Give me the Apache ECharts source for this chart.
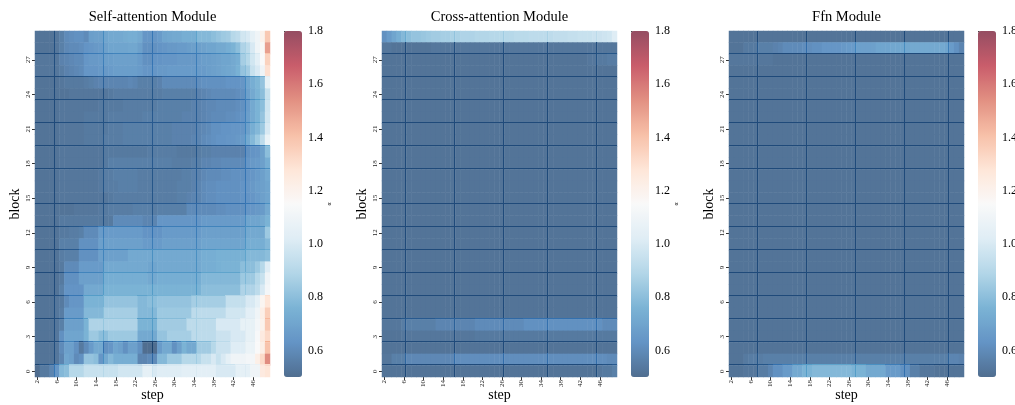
<!DOCTYPE html>
<html><head><meta charset="utf-8">
<style>html,body{margin:0;padding:0;background:#fff}#c{width:1015px;height:405px}</style>
<script src="https://cdn.jsdelivr.net/npm/echarts@6/dist/echarts.min.js"></script>
</head><body><div id="c"></div>
<script>
const steps = [];
for (let s = 2; s <= 49; s++) steps.push(String(s));
const blocks = [];
for (let b = 0; b <= 29; b++) blocks.push(String(b));
const titles = ['Self-attention Module', 'Cross-attention Module', 'Ffn Module'];
const colorbarTicks = [0.6, 0.8, 1.0, 1.2, 1.4, 1.6, 1.8];
const rdbuStops = ['#053061','#2166ac','#4393c3','#92c5de','#d1e5f0','#f7f7f7','#fddbc7','#f4a582','#d6604d','#b2182b','#67001f'];
// Rows run top (block 29) to bottom (block 0); 48 steps each.
const selfAttention = [
[.52,.52,.52,.52,.53,.56,.60,.61,.62,.62, .60,.67,.68,.68,.70,.72,.72,.72,.73,.74, .74,.72,.64,.64,.64,.66,.70,.71,.72,.72, .74,.74,.74,.78,.78,.78,.80,.82,.84,.85, .90,.92,.98,1.00,1.05,1.10,1.20,1.38],
[.52,.52,.52,.52,.53,.56,.59,.60,.60,.61, .63,.64,.65,.66,.68,.70,.70,.70,.70,.71, .71,.68,.62,.62,.62,.63,.64,.65,.65,.66, .66,.67,.68,.68,.69,.70,.70,.72,.72,.74, .76,.80,.88,.92,1.00,1.10,1.16,1.50],
[.53,.53,.53,.53,.53,.57,.58,.59,.60,.60, .64,.65,.65,.66,.67,.67,.68,.68,.68,.68, .68,.66,.62,.62,.63,.63,.64,.64,.64,.65, .65,.65,.65,.66,.67,.67,.68,.69,.70,.70, .72,.74,.86,.90,.98,1.04,1.15,1.35],
[.53,.53,.53,.53,.53,.55,.57,.58,.59,.60, .64,.64,.64,.65,.65,.66,.67,.67,.67,.67, .67,.66,.64,.64,.64,.65,.65,.66,.66,.66, .66,.66,.66,.66,.66,.67,.68,.69,.70,.71, .72,.75,.82,.85,.95,1.00,1.10,1.30],
[.52,.52,.52,.52,.52,.53,.54,.54,.54,.54, .55,.56,.57,.58,.58,.58,.58,.58,.58,.59, .58,.56,.56,.56,.56,.57,.60,.60,.60,.60, .60,.60,.60,.61,.62,.62,.62,.62,.62,.63, .63,.63,.64,.70,.74,.77,.82,1.06],
[.52,.52,.52,.52,.52,.52,.52,.53,.53,.53, .53,.53,.53,.53,.53,.54,.55,.55,.55,.55, .55,.55,.55,.55,.55,.55,.56,.56,.56,.56, .56,.56,.56,.57,.58,.59,.60,.60,.60,.60, .60,.61,.62,.68,.72,.76,.80,.95],
[.52,.52,.52,.52,.52,.53,.53,.53,.53,.53, .53,.53,.53,.54,.54,.54,.54,.54,.55,.55, .55,.55,.55,.55,.55,.56,.56,.56,.56,.56, .56,.56,.57,.57,.58,.59,.59,.60,.60,.60, .60,.61,.62,.66,.72,.76,.80,.97],
[.52,.52,.52,.52,.52,.53,.53,.53,.53,.53, .54,.54,.54,.54,.54,.55,.55,.55,.55,.55, .55,.55,.56,.56,.56,.56,.56,.56,.56,.56, .57,.57,.57,.57,.58,.59,.60,.60,.60,.61, .61,.62,.63,.67,.72,.76,.82,.98],
[.52,.52,.52,.52,.52,.53,.53,.53,.53,.53, .54,.54,.54,.54,.54,.55,.55,.55,.56,.56, .56,.56,.56,.56,.56,.56,.56,.56,.57,.57, .57,.57,.57,.58,.59,.60,.62,.62,.63,.63, .64,.64,.64,.68,.74,.78,.84,1.00],
[.52,.52,.52,.52,.52,.53,.53,.53,.53,.53, .54,.54,.54,.54,.55,.55,.55,.55,.56,.56, .56,.56,.56,.56,.56,.56,.56,.56,.57,.57, .57,.57,.58,.58,.60,.61,.62,.63,.63,.64, .64,.65,.66,.72,.78,.84,.92,1.08],
[.52,.52,.52,.52,.52,.53,.53,.53,.53,.53, .53,.53,.53,.53,.54,.54,.54,.54,.54,.54, .54,.54,.54,.55,.55,.55,.55,.55,.55,.54, .54,.54,.54,.55,.56,.56,.57,.57,.57,.57, .57,.57,.57,.62,.63,.64,.68,.80],
[.52,.52,.52,.52,.52,.53,.53,.53,.53,.53, .53,.53,.53,.53,.54,.56,.56,.56,.56,.56, .56,.56,.56,.56,.56,.56,.56,.56,.55,.55, .55,.55,.56,.56,.58,.58,.59,.59,.60,.60, .60,.60,.60,.64,.65,.66,.68,.74],
[.52,.52,.52,.52,.52,.53,.53,.53,.53,.53, .53,.53,.53,.54,.55,.55,.56,.56,.56,.56, .56,.55,.55,.55,.55,.55,.55,.55,.55,.55, .56,.56,.57,.57,.59,.60,.60,.60,.61,.61, .62,.62,.62,.63,.64,.66,.68,.72],
[.52,.52,.52,.52,.52,.53,.53,.53,.53,.53, .53,.53,.53,.54,.55,.55,.55,.56,.56,.56, .56,.55,.55,.55,.55,.55,.55,.55,.55,.56, .56,.56,.57,.58,.60,.61,.61,.62,.62,.62, .62,.62,.63,.64,.65,.67,.68,.70],
[.52,.52,.52,.52,.52,.53,.53,.53,.53,.53, .53,.53,.53,.53,.53,.54,.55,.55,.55,.55, .55,.55,.55,.55,.55,.55,.55,.55,.55,.56, .56,.57,.58,.58,.60,.61,.61,.62,.62,.62, .62,.62,.63,.63,.64,.66,.68,.70],
[.52,.52,.52,.52,.52,.52,.52,.52,.53,.53, .53,.53,.53,.54,.54,.55,.55,.55,.55,.55, .56,.56,.56,.56,.55,.56,.56,.56,.56,.56, .56,.60,.60,.60,.60,.60,.60,.61,.61,.62, .62,.62,.62,.64,.64,.65,.66,.72],
[.52,.52,.52,.52,.52,.54,.54,.54,.54,.54, .54,.54,.54,.54,.54,.54,.60,.60,.60,.60, .60,.60,.58,.58,.58,.64,.64,.64,.64,.64, .64,.64,.64,.64,.66,.66,.66,.66,.66,.66, .66,.66,.66,.70,.70,.70,.72,.76],
[.52,.52,.52,.52,.52,.54,.54,.55,.55,.56, .60,.60,.60,.66,.66,.66,.66,.66,.66,.66, .66,.66,.63,.63,.63,.63,.66,.66,.66,.66, .66,.66,.66,.66,.68,.68,.68,.68,.68,.68, .68,.68,.68,.72,.72,.72,.72,.84],
[.52,.52,.52,.52,.52,.56,.56,.56,.56,.62, .62,.62,.62,.68,.68,.68,.68,.68,.68,.68, .68,.68,.66,.66,.66,.66,.68,.68,.68,.68, .68,.68,.68,.68,.70,.70,.70,.70,.70,.70, .70,.70,.70,.74,.74,.74,.74,.78],
[.52,.52,.52,.52,.52,.55,.56,.56,.56,.62, .62,.62,.62,.68,.68,.68,.68,.68,.68,.72, .72,.72,.72,.72,.72,.72,.72,.72,.72,.72, .72,.72,.72,.72,.74,.74,.74,.75,.75,.75, .75,.75,.75,.78,.78,.78,.78,.80],
[.52,.52,.52,.52,.52,.54,.60,.60,.60,.66, .66,.66,.66,.66,.72,.72,.72,.72,.72,.72, .72,.72,.72,.70,.70,.72,.72,.72,.72,.72, .72,.72,.72,.72,.74,.74,.74,.75,.76,.76, .76,.76,.80,.80,.80,.84,.90,1.02],
[.52,.52,.52,.52,.52,.54,.62,.62,.62,.68, .68,.68,.68,.68,.74,.74,.74,.74,.74,.74, .74,.74,.74,.72,.72,.74,.74,.74,.74,.74, .74,.74,.74,.74,.78,.78,.78,.78,.78,.78, .78,.78,.84,.84,.84,.90,.95,1.10],
[.52,.52,.52,.52,.52,.56,.63,.63,.63,.63, .72,.72,.72,.72,.76,.76,.76,.76,.76,.76, .76,.76,.76,.76,.76,.76,.76,.76,.76,.76, .76,.76,.76,.76,.80,.80,.80,.80,.80,.80, .80,.80,.88,.88,.88,.92,1.00,1.12],
[.52,.52,.52,.52,.53,.54,.60,.64,.64,.64, .76,.76,.76,.76,.82,.82,.82,.82,.82,.82, .82,.78,.78,.80,.80,.82,.82,.82,.82,.82, .82,.82,.86,.86,.86,.86,.86,.86,.86,.94, .94,.94,.94,1.00,1.00,1.05,1.18,1.28],
[.52,.52,.52,.52,.53,.55,.66,.66,.66,.66, .78,.78,.78,.78,.86,.86,.86,.86,.86,.86, .86,.78,.78,.78,.78,.84,.84,.84,.84,.84, .84,.84,.92,.92,.92,.92,.92,.92,.92,.98, .98,.98,.98,1.04,1.04,1.10,1.22,1.36],
[.52,.52,.52,.52,.53,.56,.68,.68,.68,.68, .76,.88,.88,.88,.88,.88,.88,.88,.88,.88, .88,.76,.76,.76,.76,.85,.85,.85,.85,.85, .85,.92,.92,.92,.92,.92,.92,1.00,1.00,1.00, 1.00,1.00,1.06,1.06,1.06,1.12,1.20,1.38],
[.52,.52,.52,.52,.53,.62,.70,.70,.70,.70, .76,.84,.84,.80,.80,.84,.84,.84,.84,.84, .84,.72,.72,.72,.72,.82,.82,.86,.86,.86, .86,.86,.92,.92,.92,.92,.92,.96,.96,.96, 1.00,1.00,1.00,1.06,1.06,1.14,1.25,1.32],
[.52,.52,.52,.52,.53,.60,.68,.68,.62,.54, .60,.66,.72,.72,.62,.64,.70,.68,.62,.68, .68,.62,.50,.50,.50,.66,.72,.72,.62,.68, .76,.72,.72,.85,.85,.85,.90,.96,.96,.96, 1.02,1.02,1.02,1.08,1.08,1.15,1.22,1.40],
[.52,.52,.52,.52,.53,.58,.70,.68,.60,.62, .82,.82,.80,.64,.72,.78,.74,.74,.74,.74, .74,.58,.58,.60,.60,.78,.78,.84,.84,.84, .90,.90,.90,.90,.95,.95,1.00,.95,1.00,1.05, 1.10,1.10,1.10,1.12,1.12,1.22,1.32,1.55],
[.50,.54,.54,.58,.64,.78,.80,.90,.90,.90, .95,.95,.95,.95,.95,.95,.95,.98,.98,.98, .98,.98,1.05,1.05,1.00,1.02,1.02,1.02,1.02,1.02, 1.04,1.04,1.04,1.04,1.04,1.04,1.04,1.00,1.00,1.00, 1.00,1.05,1.05,1.05,1.10,1.10,1.25,1.28]
];
const crossAttention = [
[.62,.66,.70,.74,.78,.80,.82,.82,.83,.84, .85,.85,.86,.86,.87,.87,.88,.88,.88,.89, .89,.89,.90,.90,.90,.90,.90,.91,.91,.91, .92,.92,.92,.92,.92,.93,.93,.93,.94,.94, .95,.95,.95,.96,.96,.97,.98,1.02],
[.53,.53,.52,.52,.52,.52,.52,.52,.52,.52, .53,.53,.53,.53,.53,.53,.53,.53,.53,.53, .53,.53,.53,.53,.53,.53,.53,.53,.53,.53, .53,.53,.53,.53,.53,.53,.53,.53,.53,.53, .53,.53,.53,.53,.53,.53,.53,.53],
[.52,.52,.52,.52,.52,.52,.52,.52,.52,.52, .52,.52,.52,.52,.52,.52,.52,.52,.52,.52, .52,.52,.52,.52,.52,.52,.52,.52,.52,.52, .52,.52,.52,.52,.52,.52,.52,.52,.52,.52, .52,.52,.53,.53,.54,.54,.55,.55],
[.52,.52,.52,.52,.52,.52,.52,.52,.52,.52, .52,.52,.52,.52,.52,.52,.52,.52,.52,.52, .52,.52,.52,.52,.52,.52,.52,.52,.52,.52, .52,.52,.52,.52,.52,.52,.52,.52,.52,.52, .52,.52,.52,.52,.52,.52,.52,.52],
[.52,.52,.52,.52,.52,.52,.52,.52,.52,.52, .52,.52,.52,.52,.52,.52,.52,.52,.52,.52, .52,.52,.52,.52,.52,.52,.52,.52,.52,.52, .52,.52,.52,.52,.52,.52,.52,.52,.52,.52, .52,.52,.52,.52,.52,.52,.52,.52],
[.52,.52,.52,.52,.52,.52,.52,.52,.52,.52, .52,.52,.52,.52,.52,.52,.52,.52,.52,.52, .52,.52,.52,.52,.52,.52,.52,.52,.52,.52, .52,.52,.52,.52,.52,.52,.52,.52,.52,.52, .52,.52,.52,.52,.52,.52,.52,.52],
[.52,.52,.52,.52,.52,.52,.52,.52,.52,.52, .52,.52,.52,.52,.52,.52,.52,.52,.52,.52, .52,.52,.52,.52,.52,.52,.52,.52,.52,.52, .52,.52,.52,.52,.52,.52,.52,.52,.52,.52, .52,.52,.52,.52,.52,.52,.52,.52],
[.52,.52,.52,.52,.52,.52,.52,.52,.52,.52, .52,.52,.52,.52,.52,.52,.52,.52,.52,.52, .52,.52,.52,.52,.52,.52,.52,.52,.52,.52, .52,.52,.52,.52,.52,.52,.52,.52,.52,.52, .52,.52,.52,.52,.52,.52,.52,.52],
[.52,.52,.52,.52,.52,.52,.52,.52,.52,.52, .52,.52,.52,.52,.52,.52,.52,.52,.52,.52, .52,.52,.52,.52,.52,.52,.52,.52,.52,.52, .52,.52,.52,.52,.52,.52,.52,.52,.52,.52, .52,.52,.52,.52,.52,.52,.52,.52],
[.52,.52,.52,.52,.52,.52,.52,.52,.52,.52, .52,.52,.52,.52,.52,.52,.52,.52,.52,.52, .52,.52,.52,.52,.52,.52,.52,.52,.52,.52, .52,.52,.52,.52,.52,.52,.52,.52,.52,.52, .52,.52,.52,.52,.52,.52,.52,.52],
[.52,.52,.52,.52,.52,.52,.52,.52,.52,.52, .52,.52,.52,.52,.52,.52,.52,.52,.52,.52, .52,.52,.52,.52,.52,.52,.52,.52,.52,.52, .52,.52,.52,.52,.52,.52,.52,.52,.52,.52, .52,.52,.52,.52,.52,.52,.52,.52],
[.52,.52,.52,.52,.52,.52,.52,.52,.52,.52, .52,.52,.52,.52,.52,.52,.52,.52,.52,.52, .52,.52,.52,.52,.52,.52,.52,.52,.52,.52, .52,.52,.52,.52,.52,.52,.52,.52,.52,.52, .52,.52,.52,.52,.52,.52,.52,.52],
[.52,.52,.52,.52,.52,.52,.52,.52,.52,.52, .52,.52,.52,.52,.52,.52,.52,.52,.52,.52, .52,.52,.52,.52,.52,.52,.52,.52,.52,.52, .52,.52,.52,.52,.52,.52,.52,.52,.52,.52, .52,.52,.52,.52,.52,.52,.52,.52],
[.52,.52,.52,.52,.52,.52,.52,.52,.52,.52, .52,.52,.52,.52,.52,.52,.52,.52,.52,.52, .52,.52,.52,.52,.52,.52,.52,.52,.52,.52, .52,.52,.52,.52,.52,.52,.52,.52,.52,.52, .52,.52,.52,.52,.52,.52,.52,.52],
[.52,.52,.52,.52,.52,.52,.52,.52,.52,.52, .52,.52,.52,.52,.52,.52,.52,.52,.52,.52, .52,.52,.52,.52,.52,.52,.52,.52,.52,.52, .52,.52,.52,.52,.52,.52,.52,.52,.52,.52, .52,.52,.52,.52,.52,.52,.52,.52],
[.52,.52,.52,.52,.52,.52,.52,.52,.52,.52, .52,.52,.52,.52,.52,.52,.52,.52,.52,.52, .52,.52,.52,.52,.52,.52,.52,.52,.52,.52, .52,.52,.52,.52,.52,.52,.52,.52,.52,.52, .52,.52,.52,.52,.52,.52,.52,.52],
[.52,.52,.52,.52,.52,.52,.52,.52,.52,.52, .52,.52,.52,.52,.52,.52,.52,.52,.52,.52, .52,.52,.52,.52,.52,.52,.52,.52,.52,.52, .52,.52,.52,.52,.52,.52,.52,.52,.52,.52, .52,.52,.52,.52,.52,.52,.52,.52],
[.52,.52,.52,.52,.52,.52,.52,.52,.52,.52, .52,.52,.52,.52,.52,.52,.52,.52,.52,.52, .52,.52,.52,.52,.52,.52,.52,.52,.52,.52, .52,.52,.52,.52,.52,.52,.52,.52,.52,.52, .52,.52,.52,.52,.52,.52,.52,.52],
[.52,.52,.52,.52,.52,.52,.52,.52,.52,.52, .52,.52,.52,.52,.52,.52,.52,.52,.52,.52, .52,.52,.52,.52,.52,.52,.52,.52,.52,.52, .52,.52,.52,.52,.52,.52,.52,.52,.52,.52, .52,.52,.52,.52,.52,.52,.52,.52],
[.52,.52,.52,.52,.52,.52,.52,.52,.52,.52, .52,.52,.52,.52,.52,.52,.52,.52,.52,.52, .52,.52,.52,.52,.52,.52,.52,.52,.52,.52, .52,.52,.52,.52,.52,.52,.52,.52,.52,.52, .52,.52,.52,.52,.52,.52,.52,.52],
[.52,.52,.52,.52,.52,.52,.52,.52,.52,.52, .52,.52,.52,.52,.52,.52,.52,.52,.52,.52, .52,.52,.52,.52,.52,.52,.52,.52,.52,.52, .52,.52,.52,.52,.52,.52,.52,.52,.52,.52, .52,.52,.52,.52,.52,.52,.52,.52],
[.52,.52,.52,.52,.52,.52,.52,.52,.52,.52, .52,.52,.52,.52,.52,.52,.52,.52,.52,.52, .52,.52,.52,.52,.52,.52,.52,.52,.52,.52, .52,.52,.52,.52,.52,.52,.52,.52,.52,.52, .52,.52,.52,.52,.52,.52,.52,.52],
[.52,.52,.52,.52,.52,.52,.52,.52,.52,.52, .52,.52,.52,.52,.52,.52,.52,.52,.52,.52, .52,.52,.52,.52,.52,.52,.52,.52,.52,.52, .52,.52,.52,.52,.52,.52,.52,.52,.52,.52, .52,.52,.52,.52,.52,.52,.52,.52],
[.52,.52,.52,.52,.52,.52,.52,.52,.52,.52, .52,.52,.52,.52,.52,.52,.52,.52,.52,.52, .52,.52,.52,.52,.52,.52,.52,.52,.52,.52, .52,.52,.52,.52,.52,.52,.52,.52,.52,.52, .52,.52,.52,.52,.52,.52,.52,.52],
[.52,.52,.52,.52,.52,.52,.52,.52,.52,.52, .52,.52,.52,.52,.52,.52,.52,.52,.52,.52, .52,.52,.52,.52,.52,.52,.52,.52,.52,.52, .52,.52,.52,.52,.52,.52,.52,.52,.52,.52, .52,.52,.52,.52,.52,.52,.52,.52],
[.53,.53,.53,.53,.55,.56,.56,.56,.56,.56, .56,.58,.58,.58,.58,.58,.58,.58,.58,.60, .60,.60,.60,.60,.60,.60,.60,.60,.60,.62, .62,.62,.62,.62,.62,.62,.62,.62,.62,.62, .62,.62,.62,.62,.62,.60,.60,.60],
[.52,.52,.52,.52,.53,.53,.53,.53,.53,.53, .53,.53,.53,.53,.53,.53,.53,.53,.53,.54, .54,.54,.54,.54,.54,.54,.54,.54,.54,.54, .54,.54,.54,.54,.54,.54,.54,.54,.54,.54, .54,.54,.54,.54,.54,.54,.54,.54],
[.52,.52,.52,.52,.52,.52,.52,.52,.52,.52, .52,.52,.52,.52,.52,.52,.52,.52,.52,.52, .52,.52,.52,.52,.52,.52,.52,.52,.52,.52, .52,.52,.52,.52,.52,.52,.52,.52,.52,.52, .52,.52,.52,.52,.52,.52,.52,.52],
[.53,.53,.56,.56,.56,.59,.59,.59,.59,.59, .59,.59,.59,.59,.59,.61,.61,.61,.61,.61, .61,.61,.61,.61,.61,.61,.61,.61,.61,.61, .61,.61,.61,.61,.61,.61,.61,.61,.61,.61, .61,.61,.61,.61,.61,.61,.60,.60],
[.52,.52,.52,.52,.52,.52,.52,.52,.52,.52, .52,.52,.52,.52,.52,.52,.52,.52,.52,.52, .52,.52,.52,.52,.52,.52,.52,.52,.52,.52, .52,.52,.52,.52,.52,.52,.52,.52,.52,.52, .52,.52,.52,.52,.53,.54,.54,.56]
];
const ffn = [
[.52,.52,.52,.52,.52,.52,.52,.52,.52,.52, .52,.52,.52,.52,.52,.52,.52,.52,.52,.52, .52,.52,.52,.52,.52,.52,.52,.52,.52,.52, .52,.52,.52,.52,.52,.52,.52,.52,.52,.52, .52,.52,.52,.52,.52,.52,.52,.52],
[.52,.52,.52,.54,.54,.54,.56,.56,.56,.57, .58,.60,.60,.60,.60,.61,.61,.62,.62,.64, .64,.64,.64,.65,.66,.66,.68,.68,.68,.68, .70,.70,.70,.71,.71,.71,.71,.72,.72,.72, .72,.72,.72,.72,.70,.66,.62,.58],
[.53,.53,.53,.53,.53,.53,.53,.53,.53,.52, .52,.52,.52,.52,.52,.52,.52,.52,.52,.52, .52,.52,.52,.52,.52,.52,.52,.52,.52,.52, .52,.52,.52,.52,.52,.52,.52,.52,.52,.52, .52,.52,.52,.52,.52,.52,.52,.52],
[.52,.52,.52,.52,.52,.52,.52,.52,.52,.52, .52,.52,.52,.52,.52,.52,.52,.52,.52,.52, .52,.52,.52,.52,.52,.52,.52,.52,.52,.52, .52,.52,.52,.52,.52,.52,.52,.52,.52,.52, .52,.52,.52,.52,.52,.52,.52,.52],
[.52,.52,.52,.52,.52,.52,.52,.52,.52,.52, .52,.52,.52,.52,.52,.52,.52,.52,.52,.52, .52,.52,.52,.52,.52,.52,.52,.52,.52,.52, .52,.52,.52,.52,.52,.52,.52,.52,.52,.52, .52,.52,.52,.52,.52,.52,.52,.52],
[.52,.52,.52,.52,.52,.52,.52,.52,.52,.52, .52,.52,.52,.52,.52,.52,.52,.52,.52,.52, .52,.52,.52,.52,.52,.52,.52,.52,.52,.52, .52,.52,.52,.52,.52,.52,.52,.52,.52,.52, .52,.52,.52,.52,.52,.52,.52,.52],
[.52,.52,.52,.52,.52,.52,.52,.52,.52,.52, .52,.52,.52,.52,.52,.52,.52,.52,.52,.52, .52,.52,.52,.52,.52,.52,.52,.52,.52,.52, .52,.52,.52,.52,.52,.52,.52,.52,.52,.52, .52,.52,.52,.52,.52,.52,.52,.52],
[.52,.52,.52,.52,.52,.52,.52,.52,.52,.52, .52,.52,.52,.52,.52,.52,.52,.52,.52,.52, .52,.52,.52,.52,.52,.52,.52,.52,.52,.52, .52,.52,.52,.52,.52,.52,.52,.52,.52,.52, .52,.52,.52,.52,.52,.52,.52,.52],
[.52,.52,.52,.52,.52,.52,.52,.52,.52,.52, .52,.52,.52,.52,.52,.52,.52,.52,.52,.52, .52,.52,.52,.52,.52,.52,.52,.52,.52,.52, .52,.52,.52,.52,.52,.52,.52,.52,.52,.52, .52,.52,.52,.52,.52,.52,.52,.52],
[.52,.52,.52,.52,.52,.52,.52,.52,.52,.52, .52,.52,.52,.52,.52,.52,.52,.52,.52,.52, .52,.52,.52,.52,.52,.52,.52,.52,.52,.52, .52,.52,.52,.52,.52,.52,.52,.52,.52,.52, .52,.52,.52,.52,.52,.52,.52,.52],
[.52,.52,.52,.52,.52,.52,.52,.52,.52,.52, .52,.52,.52,.52,.52,.52,.52,.52,.52,.52, .52,.52,.52,.52,.52,.52,.52,.52,.52,.52, .52,.52,.52,.52,.52,.52,.52,.52,.52,.52, .52,.52,.52,.52,.52,.52,.52,.52],
[.52,.52,.52,.52,.52,.52,.52,.52,.52,.52, .52,.52,.52,.52,.52,.52,.52,.52,.52,.52, .52,.52,.52,.52,.52,.52,.52,.52,.52,.52, .52,.52,.52,.52,.52,.52,.52,.52,.52,.52, .52,.52,.52,.52,.52,.52,.52,.52],
[.52,.52,.52,.52,.52,.52,.52,.52,.52,.52, .52,.52,.52,.52,.52,.52,.52,.52,.52,.52, .52,.52,.52,.52,.52,.52,.52,.52,.52,.52, .52,.52,.52,.52,.52,.52,.52,.52,.52,.52, .52,.52,.52,.52,.52,.52,.52,.52],
[.52,.52,.52,.52,.52,.52,.52,.52,.52,.52, .52,.52,.52,.52,.52,.52,.52,.52,.52,.52, .52,.52,.52,.52,.52,.52,.52,.52,.52,.52, .52,.52,.52,.52,.52,.52,.52,.52,.52,.52, .52,.52,.52,.52,.52,.52,.52,.52],
[.52,.52,.52,.52,.52,.52,.52,.52,.52,.52, .52,.52,.52,.52,.52,.52,.52,.52,.52,.52, .52,.52,.52,.52,.52,.52,.52,.52,.52,.52, .52,.52,.52,.52,.52,.52,.52,.52,.52,.52, .52,.52,.52,.52,.52,.52,.52,.52],
[.52,.52,.52,.52,.52,.52,.52,.52,.52,.52, .52,.52,.52,.52,.52,.52,.52,.52,.52,.52, .52,.52,.52,.52,.52,.52,.52,.52,.52,.52, .52,.52,.52,.52,.52,.52,.52,.52,.52,.52, .52,.52,.52,.52,.52,.52,.52,.52],
[.52,.52,.52,.52,.52,.52,.52,.52,.52,.52, .52,.52,.52,.52,.52,.52,.52,.52,.52,.52, .52,.52,.52,.52,.52,.52,.52,.52,.52,.52, .52,.52,.52,.52,.52,.52,.52,.52,.52,.52, .52,.52,.52,.52,.52,.52,.52,.52],
[.52,.52,.52,.52,.52,.52,.52,.52,.52,.52, .52,.52,.52,.52,.52,.52,.52,.52,.52,.52, .52,.52,.52,.52,.52,.52,.52,.52,.52,.52, .52,.52,.52,.52,.52,.52,.52,.52,.52,.52, .52,.52,.52,.52,.52,.52,.52,.52],
[.52,.52,.52,.52,.52,.52,.52,.52,.52,.52, .52,.52,.52,.52,.52,.52,.52,.52,.52,.52, .52,.52,.52,.52,.52,.52,.52,.52,.52,.52, .52,.52,.52,.52,.52,.52,.52,.52,.52,.52, .52,.52,.52,.52,.52,.52,.52,.52],
[.52,.52,.52,.52,.52,.52,.52,.52,.52,.52, .52,.52,.52,.52,.52,.52,.52,.52,.52,.52, .52,.52,.52,.52,.52,.52,.52,.52,.52,.52, .52,.52,.52,.52,.52,.52,.52,.52,.52,.52, .52,.52,.52,.52,.52,.52,.52,.52],
[.52,.52,.52,.52,.52,.52,.52,.52,.52,.52, .52,.52,.52,.52,.52,.52,.52,.52,.52,.52, .52,.52,.52,.52,.52,.52,.52,.52,.52,.52, .52,.52,.52,.52,.52,.52,.52,.52,.52,.52, .52,.52,.52,.52,.52,.52,.52,.52],
[.52,.52,.52,.52,.52,.52,.52,.52,.52,.52, .52,.52,.52,.52,.52,.52,.52,.52,.52,.52, .52,.52,.52,.52,.52,.52,.52,.52,.52,.52, .52,.52,.52,.52,.52,.52,.52,.52,.52,.52, .52,.52,.52,.52,.52,.52,.52,.52],
[.52,.52,.52,.52,.52,.52,.52,.52,.52,.52, .52,.52,.52,.52,.52,.52,.52,.52,.52,.52, .52,.52,.52,.52,.52,.52,.52,.52,.52,.52, .52,.52,.52,.52,.52,.52,.52,.52,.52,.52, .52,.52,.52,.52,.52,.52,.52,.52],
[.52,.52,.52,.52,.52,.52,.52,.52,.52,.52, .52,.52,.52,.52,.52,.52,.52,.52,.52,.52, .52,.52,.52,.52,.52,.52,.52,.52,.52,.52, .52,.52,.52,.52,.52,.52,.52,.52,.52,.52, .52,.52,.52,.52,.52,.52,.52,.52],
[.52,.52,.52,.52,.52,.52,.52,.52,.52,.52, .52,.52,.52,.52,.52,.52,.52,.52,.52,.52, .52,.52,.52,.52,.52,.52,.52,.52,.52,.52, .52,.52,.52,.52,.52,.52,.52,.52,.52,.52, .52,.52,.52,.52,.52,.52,.52,.52],
[.52,.52,.52,.52,.52,.52,.52,.52,.52,.52, .52,.52,.52,.52,.52,.52,.52,.52,.52,.52, .52,.52,.52,.52,.52,.52,.52,.52,.52,.52, .52,.52,.52,.52,.52,.52,.52,.52,.52,.52, .52,.52,.52,.52,.52,.52,.52,.52],
[.52,.52,.52,.52,.52,.52,.52,.52,.52,.52, .52,.52,.52,.52,.52,.52,.52,.52,.52,.52, .52,.52,.52,.52,.52,.52,.52,.52,.52,.52, .52,.52,.52,.52,.52,.52,.52,.52,.52,.52, .52,.52,.52,.52,.52,.52,.52,.52],
[.52,.52,.52,.52,.52,.52,.52,.52,.52,.52, .52,.52,.52,.52,.52,.52,.52,.52,.52,.52, .52,.52,.52,.52,.52,.52,.52,.52,.52,.52, .52,.52,.52,.52,.52,.52,.52,.52,.52,.52, .52,.52,.52,.52,.52,.52,.52,.52],
[.52,.52,.52,.54,.55,.55,.55,.56,.56,.56, .56,.56,.56,.56,.56,.56,.56,.56,.56,.56, .56,.56,.56,.56,.56,.56,.56,.56,.56,.56, .56,.56,.56,.56,.56,.56,.56,.56,.56,.56, .56,.56,.56,.56,.56,.58,.58,.57],
[.52,.52,.52,.53,.53,.53,.55,.55,.58,.62, .62,.66,.66,.72,.72,.76,.76,.78,.78,.78, .78,.78,.78,.78,.78,.76,.76,.76,.72,.72, .72,.72,.66,.66,.66,.62,.62,.56,.56,.53, .53,.53,.52,.52,.52,.52,.52,.52]
];
const matrices = [selfAttention, crossAttention, ffn];
// Blocks and step positions where a cell seam shows as a darker line.
const seamBlocks = [27,25,23,21,19,17,14,12,10,8,6,4,2,0];
const seamSteps = [[4,14,24,33,43],[5,15,25,34,44],[6,16,26,36,45]];

const serif = '"Liberation Serif","Times New Roman",serif';
const LAYOUT = [
  {left:35, cb:284, cx:152.5},
  {left:382, cb:631, cx:499.5},
  {left:729, cb:978, cx:846.5}
];
const TOP = 31, W = 235, H = 346, CBW = 18;

function hex(c){return [1,3,5].map(i=>parseInt(c.substr(i,2),16));}
const over = (rgb,a)=>rgb.map(v=>Math.round(a*v+(1-a)*255));
const cellStops = rdbuStops.map(c=>{const r=over(hex(c),0.7);return `rgb(${r})`;});
function seamColor(v){
  const t=Math.max(0,Math.min(1,(v-0.5)/1.3))*10, i=Math.min(9,Math.floor(t)), f=t-i;
  const a=hex(rdbuStops[i]), b=hex(rdbuStops[i+1]);
  const r=over(a.map((x,k)=>x+(b[k]-x)*f),0.91);
  return `rgb(${r})`;
}

const title=[],grid=[],xAxis=[],yAxis=[],series=[],visualMap=[];
matrices.forEach((m,p)=>{
  const L=LAYOUT[p];
  const data=[];
  m.forEach((row,i)=>row.forEach((v,c)=>data.push([c,29-i,v])));
  title.push({text:titles[p],left:L.cx,top:10,textAlign:'center',padding:0,
    textStyle:{fontFamily:serif,fontSize:14.5,fontWeight:'normal',color:'#000'}});
  grid.push({left:L.left,top:TOP,width:W,height:H,containLabel:false,outerBoundsMode:'none'});
  xAxis.push({type:'category',gridIndex:2*p,data:steps,boundaryGap:true,
    name:'step',nameLocation:'middle',nameGap:11,nameMoveOverlap:false,
    nameTextStyle:{fontFamily:serif,fontSize:14,color:'#000'},
    axisLine:{show:false},
    axisTick:{show:true,interval:3,alignWithLabel:true,length:3,lineStyle:{color:'#000',width:0.8}},
    axisLabel:{interval:3,rotate:90,fontFamily:serif,fontSize:7,color:'#222',margin:3},
    splitLine:{show:false}});
  yAxis.push({type:'category',gridIndex:2*p,data:blocks,boundaryGap:true,
    name:'block',nameLocation:'middle',nameGap:13,nameMoveOverlap:false,
    nameTextStyle:{fontFamily:serif,fontSize:14,color:'#000'},
    axisLine:{show:false},
    axisTick:{show:true,interval:2,alignWithLabel:true,length:3,lineStyle:{color:'#000',width:0.8}},
    axisLabel:{interval:2,rotate:90,fontFamily:serif,fontSize:7,color:'#222',margin:3},
    splitLine:{show:false}});
  grid.push({left:L.cb,top:TOP,width:CBW,height:H,containLabel:false,outerBoundsMode:'none'});
  xAxis.push({type:'value',gridIndex:2*p+1,show:false,min:0,max:1});
  yAxis.push({type:'value',gridIndex:2*p+1,position:'right',min:0.5,max:1.8,
    name:p<2?'α':'',nameLocation:'middle',nameGap:24,nameMoveOverlap:false,
    nameTextStyle:{fontFamily:serif,fontSize:6,color:'#222'},
    axisLine:{show:false},
    axisTick:{show:true,length:3,customValues:colorbarTicks,lineStyle:{color:'#000',width:0.8}},
    axisLabel:{customValues:colorbarTicks,formatter:v=>v.toFixed(1),fontFamily:serif,fontSize:12,color:'#000',margin:6},
    splitLine:{show:false}});
  const heatIndex=series.length;
  series.push({type:'heatmap',xAxisIndex:2*p,yAxisIndex:2*p,data,progressive:0,
    emphasis:{disabled:true},silent:true,animation:false});
  const stepsSet=seamSteps[p];
  series.push({type:'custom',xAxisIndex:2*p,yAxisIndex:2*p,data,silent:true,animation:false,z:3,
    encode:{x:0,y:1},clip:true,
    renderItem(params,api){
      const c=api.value(0),b=api.value(1),v=api.value(2);
      const pt=api.coord([c,b]),s=api.size([1,1]);
      const kids=[],fill=seamColor(v);
      if(stepsSet.indexOf(c)>=0)
        kids.push({type:'rect',shape:{x:Math.round(pt[0]-s[0]/2)-1,y:Math.floor(pt[1]-s[1]/2),width:1,height:Math.ceil(s[1])},style:{fill}});
      if(seamBlocks.indexOf(b)>=0)
        kids.push({type:'rect',shape:{x:Math.floor(pt[0]-s[0]/2),y:Math.round(pt[1]-s[1]/2)-1,width:Math.ceil(s[0]),height:1},style:{fill}});
      return {type:'group',children:kids};
    }});
  visualMap.push({type:'continuous',seriesIndex:heatIndex,dimension:2,min:0.5,max:1.8,
    calculable:false,hoverLink:false,realtime:false,left:L.cb,top:TOP,itemWidth:CBW,itemHeight:H,padding:0,
    inRange:{color:cellStops},textStyle:{fontSize:0}});
});
const chart=echarts.init(document.getElementById('c'),null,{renderer:'canvas',width:1015,height:405});
chart.setOption({animation:false,backgroundColor:'#fff',title,grid,xAxis,yAxis,visualMap,series});
</script></body></html>
